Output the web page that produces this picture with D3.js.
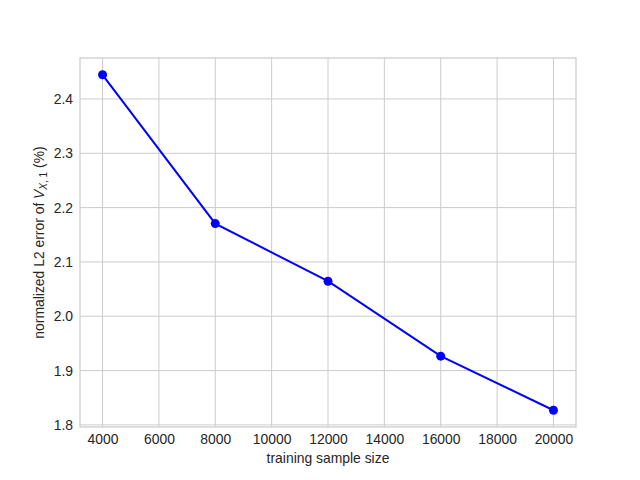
<!DOCTYPE html>
<html>
<head>
<meta charset="utf-8">
<script src="https://cdn.jsdelivr.net/npm/d3@7"></script>
<style>
  body { margin: 0; background: #fff; overflow: hidden; }
  text { font-family: "Liberation Sans", Arial, sans-serif; }
</style>
</head>
<body>
<div id="chart-area"></div>
<script>
var outerWidth = 640;
var outerHeight = 480;
var margin = {left: 80, right: 64, top: 58, bottom: 53};
var innerWidth = outerWidth - margin.left - margin.right;
var innerHeight = outerHeight - margin.top - margin.bottom;

// data
var sampleSizes = [4000, 8000, 12000, 16000, 20000];
var errors = [2.4445, 2.1705, 2.0645, 1.9265, 1.827];
var xTicks = [4000, 6000, 8000, 10000, 12000, 14000, 16000, 18000, 20000];
var yTicks = [1.8, 1.9, 2.0, 2.1, 2.2, 2.3, 2.4];

var svg = d3.select('#chart-area').append('svg')
            .attr('width', outerWidth)
            .attr('height', outerHeight)
            .style('display', 'block');

var g = svg.append('g')
           .attr('transform', 'translate(' + margin.left + ',' + margin.top + ')');

// matplotlib style 5% padding
function padded(ext) {
  var p = (ext[1] - ext[0]) * 0.05;
  return [ext[0] - p, ext[1] + p];
}

var xScale = d3.scaleLinear()
               .domain(padded(d3.extent(sampleSizes)))
               .range([0, innerWidth]);
var yScale = d3.scaleLinear()
               .domain(padded(d3.extent(errors)))
               .range([innerHeight, 0]);

// grid
g.append('g').selectAll('line').data(xTicks).enter().append('line')
 .attr('x1', function(d){ return xScale(d); })
 .attr('x2', function(d){ return xScale(d); })
 .attr('y1', 0).attr('y2', innerHeight)
 .attr('stroke', '#cccccc').attr('stroke-width', 1);
g.append('g').selectAll('line').data(yTicks).enter().append('line')
 .attr('y1', function(d){ return yScale(d); })
 .attr('y2', function(d){ return yScale(d); })
 .attr('x1', 0).attr('x2', innerWidth)
 .attr('stroke', '#cccccc').attr('stroke-width', 1);

// axes (no tick marks, seaborn whitegrid look)
var xAxis = d3.axisBottom(xScale).tickValues(xTicks).tickSize(0).tickPadding(7)
              .tickFormat(d3.format('d'));
var yAxis = d3.axisLeft(yScale).tickValues(yTicks).tickSize(0).tickPadding(7)
              .tickFormat(d3.format('.1f'));

var xAxisG = g.append('g').attr('transform', 'translate(0,' + innerHeight + ')').call(xAxis);
var yAxisG = g.append('g').call(yAxis);
[xAxisG, yAxisG].forEach(function(a){
  a.select('.domain').remove();
  a.selectAll('text')
   .attr('fill', '#262626')
   .style('font-size', '13.9px')
   .style('font-family', '"Liberation Sans", Arial, sans-serif');
});

// frame
g.append('rect')
 .attr('x', 0).attr('y', 0)
 .attr('width', innerWidth).attr('height', innerHeight)
 .attr('fill', 'none')
 .attr('stroke', '#cccccc')
 .attr('stroke-width', 1.25);

// line + markers
var line = d3.line()
             .x(function(d, i){ return xScale(sampleSizes[i]); })
             .y(function(d){ return yScale(d); });

g.append('path')
 .attr('d', line(errors))
 .attr('fill', 'none')
 .attr('stroke', '#0000ff')
 .attr('stroke-width', 2);

g.selectAll('.dot').data(errors).enter().append('circle')
 .attr('class', 'dot')
 .attr('cx', function(d, i){ return xScale(sampleSizes[i]); })
 .attr('cy', function(d){ return yScale(d); })
 .attr('r', 4.5)
 .attr('fill', '#0000ff');

// labels
g.append('text')
 .attr('x', innerWidth / 2)
 .attr('y', innerHeight + 36)
 .attr('text-anchor', 'middle')
 .attr('fill', '#262626')
 .style('font-size', '13.9px')
 .text('training sample size');

var yLabel = g.append('text')
              .attr('transform', 'translate(-36,' + (innerHeight / 2) + ') rotate(-90)')
              .attr('text-anchor', 'middle')
              .attr('fill', '#262626')
              .style('font-size', '13.9px');
yLabel.append('tspan').text('normalized L2 error of ');
yLabel.append('tspan').attr('font-style', 'italic').text('V');
yLabel.append('tspan').attr('dy', 3).style('font-size', '10px').attr('font-style', 'italic').text('X');
yLabel.append('tspan').style('font-size', '10px').text(', 1');
yLabel.append('tspan').attr('dy', -3).text(' (%)');
</script>
</body>
</html>
